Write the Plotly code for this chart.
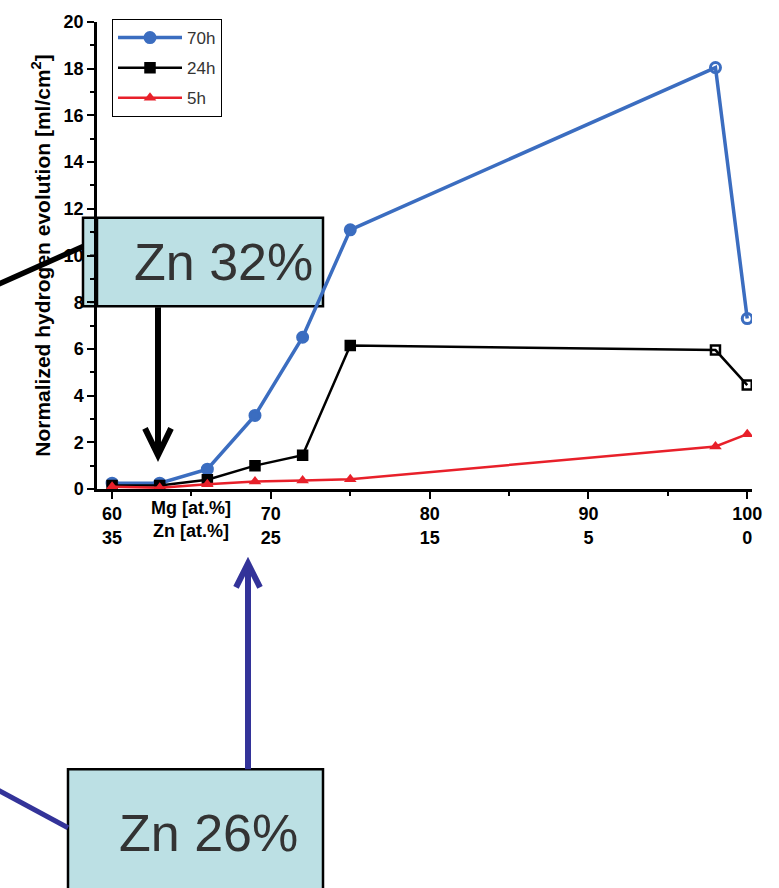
import plotly.graph_objects as go

# Mg content of the alloys [at.%] and normalized hydrogen evolution after each immersion time
mg_at = [60, 63, 66, 69, 72, 75, 98, 100]
h2_70h = [0.25, 0.25, 0.85, 3.15, 6.5, 11.1, 18.05, 7.3]
h2_24h = [0.15, 0.15, 0.4, 1.0, 1.45, 6.15, 5.95, 4.45]
h2_5h = [0.1, 0.05, 0.2, 0.32, 0.36, 0.42, 1.82, 2.35]

x_tickvals = [60, 70, 80, 90, 100]
x_ticktext = ["60<br>35", "70<br>25", "80<br>15", "90<br>5", "100<br>0"]
x_axis_label = "Mg [at.%]<br>Zn [at.%]"
y_title = "Normalized hydrogen evolution [ml/cm<sup>2</sup>]"
callout_top = "Zn 32%"
callout_bottom = "Zn 26%"

W_FIG, H_FIG = 779, 888
L, R, T, B = 97, 27, 19, 399
PW, PH = W_FIG - L - R, H_FIG - T - B

BLUE = "#3b6dc0"
RED = "#e8202a"
NAVY = "#333399"
BOX_FILL = "#bce0e4"
FONT = "Arial, Liberation Sans"
TICK_FONT = dict(family=FONT, size=18, color="black", weight="bold")
MAJOR_LEN, MINOR_LEN = 7, 4


def px(x):
    return (x - L) / PW


def py(y):
    return (T + PH - y) / PH


fig = go.Figure()
fig.add_trace(go.Scatter(
    x=mg_at, y=h2_70h, name="70h", mode="lines+markers", legendgroup="a",
    line=dict(color=BLUE, width=3.5),
    marker=dict(symbol=["circle"] * 6 + ["circle-open"] * 2, size=10, color=BLUE,
                line=dict(color=BLUE, width=3)),
))
fig.add_trace(go.Scatter(
    x=mg_at, y=h2_24h, name="24h", mode="lines+markers", legendgroup="b",
    line=dict(color="black", width=2.5),
    marker=dict(symbol=["square"] * 6 + ["square-open"] * 2, size=9, color="black",
                line=dict(color="black", width=2.5)),
))
fig.add_trace(go.Scatter(
    x=mg_at, y=h2_5h, name="5h", mode="lines+markers", legendgroup="c",
    line=dict(color=RED, width=2.5),
    marker=dict(symbol="triangle-up", size=11, color=RED),
))

box_top = dict(x0=83, x1=323, y0=216, y1=305)
shapes = [
    # callout boxes
    dict(type="rect", xref="paper", yref="paper", x0=px(box_top["x0"]), x1=px(box_top["x1"]),
         y0=py(box_top["y1"]), y1=py(box_top["y0"]),
         fillcolor=BOX_FILL, line=dict(color="black", width=2.5), layer="between"),
    dict(type="rect", xref="paper", yref="paper", x0=px(68), x1=px(323), y0=py(905), y1=py(771),
         fillcolor=BOX_FILL, line=dict(color="black", width=2.5), layer="between"),
    # y-axis spine kept visible across the upper box
    dict(type="line", xref="x domain", yref="paper", x0=0, x1=0,
         y0=py(box_top["y1"]), y1=py(box_top["y0"]),
         line=dict(color="black", width=2.5), layer="above"),
]
# tick marks of the y-axis that fall inside the upper box
for v in [8, 9, 10, 11]:
    ln = MAJOR_LEN if v % 2 == 0 else MINOR_LEN
    shapes.append(dict(type="line", xref="x domain", yref="y", x0=-ln / PW, x1=0, y0=v, y1=v,
                       line=dict(color="black", width=2), layer="above"))

shapes += [
    # black connector and arrow
    dict(type="line", xref="paper", yref="paper", x0=px(-2), y0=py(283), x1=px(83), y1=py(245),
         line=dict(color="black", width=5.5), layer="above"),
    dict(type="line", xref="paper", yref="paper", x0=px(158), y0=py(306), x1=px(158), y1=py(452),
         line=dict(color="black", width=6), layer="above"),
    dict(type="path", xref="paper", yref="paper",
         path=f"M{px(145)},{py(428)} L{px(158)},{py(455)} L{px(171)},{py(428)}",
         line=dict(color="black", width=6), layer="above"),
    # navy connector and arrow
    dict(type="line", xref="paper", yref="paper", x0=px(-2), y0=py(792), x1=px(68), y1=py(830),
         line=dict(color=NAVY, width=5), layer="above"),
    dict(type="line", xref="paper", yref="paper", x0=px(248), y0=py(771), x1=px(248), y1=py(566),
         line=dict(color=NAVY, width=6), layer="above"),
    dict(type="path", xref="paper", yref="paper",
         path=f"M{px(236)},{py(588)} L{px(248)},{py(564)} L{px(260)},{py(588)}",
         line=dict(color=NAVY, width=6), layer="above"),
]

annotations = [
    dict(text=x_axis_label, x=65, xref="x", y=py(496), yref="paper", xanchor="center", yanchor="top",
         showarrow=False, font=TICK_FONT, align="center"),
    dict(text=callout_top, x=px(223), y=py(261), xref="paper", yref="paper", xanchor="center",
         yanchor="middle", showarrow=False,
         font=dict(family=FONT, size=52, color="#333333")),
    dict(text=callout_bottom, x=px(208), y=py(835), xref="paper", yref="paper", xanchor="center",
         yanchor="middle", showarrow=False,
         font=dict(family=FONT, size=52, color="#333333")),
]

fig.update_layout(
    width=W_FIG, height=H_FIG,
    margin=dict(l=L, r=R, t=T, b=B, pad=0),
    paper_bgcolor="white", plot_bgcolor="rgba(0,0,0,0)",
    showlegend=True,
    legend=dict(x=px(112), y=py(16), xanchor="left", yanchor="top",
                bordercolor="black", borderwidth=1, bgcolor="white",
                font=dict(family=FONT, size=17, color="#333333"),
                traceorder="grouped", tracegroupgap=5, itemwidth=64),
    shapes=shapes, annotations=annotations,
    xaxis=dict(range=[59.05, 100.3], tickvals=x_tickvals, ticktext=x_ticktext,
               showgrid=False, zeroline=False, showline=True, linecolor="black", linewidth=2.5,
               ticks="outside", ticklen=MAJOR_LEN, tickwidth=2, tickcolor="black", tickfont=TICK_FONT,
               minor=dict(tickvals=[65, 75, 85, 95], ticks="outside", ticklen=MINOR_LEN, tickwidth=2,
                          tickcolor="black")),
    yaxis=dict(range=[0, 20], dtick=2, tick0=0,
               showgrid=False, zeroline=False, showline=True, linecolor="black", linewidth=2.5,
               ticks="outside", ticklen=MAJOR_LEN, tickwidth=2, tickcolor="black", tickfont=TICK_FONT,
               minor=dict(dtick=1, ticks="outside", ticklen=MINOR_LEN, tickwidth=2, tickcolor="black"),
               title=dict(text=y_title, standoff=8,
                          font=dict(family=FONT, size=21, color="black", weight="bold"))),
)

fig.write_html("out.html")
